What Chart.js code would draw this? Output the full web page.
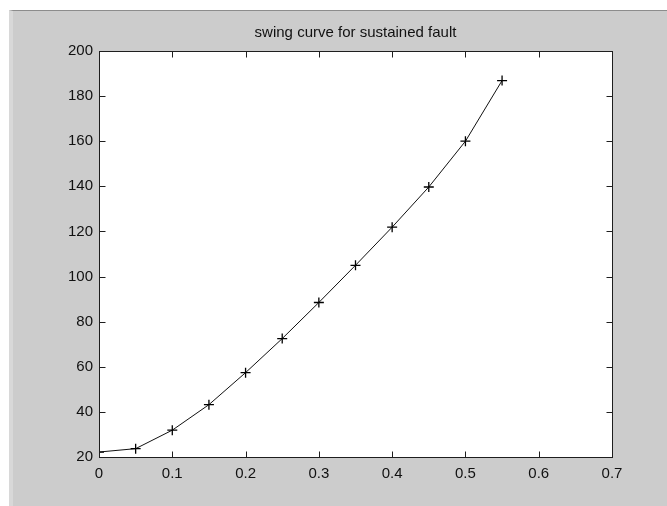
<!DOCTYPE html>
<html>
<head>
<meta charset="utf-8">
<script src="https://cdn.jsdelivr.net/npm/chart.js@4.4.1/dist/chart.umd.min.js"></script>
<style>
  html, body { margin: 0; padding: 0; background: #ffffff; }
  body { width: 667px; height: 506px; position: relative; overflow: hidden; }
  #frame {
    position: absolute; left: 9px; top: 10px; width: 658px; height: 496px;
    box-sizing: border-box; background: #cccccc;
    border-top: 1px solid #8c8c8c; border-left: 4px solid #d8d8d8;
  }
  #chart { position: absolute; left: 9px; top: 10px; }
</style>
</head>
<body>
<div id="frame"></div>
<canvas id="chart" width="658" height="496"></canvas>
<script>
// swing curve data (time in s, rotor angle in deg)
const timeValues = [0, 0.05, 0.1, 0.15, 0.2, 0.25, 0.3, 0.35, 0.4, 0.45, 0.5, 0.55];
const deltaValues = [22.2, 23.7, 31.9, 43.2, 57.4, 72.5, 88.5, 105, 121.9, 139.7, 160, 186.9];
const xTickLabels = ['0', '0.1', '0.2', '0.3', '0.4', '0.5', '0.6', '0.7'];
const yTickLabels = ['20', '40', '60', '80', '100', '120', '140', '160', '180', '200'];
const chartTitle = 'swing curve for sustained fault';

const FONT = "'Liberation Sans', Arial, sans-serif";

// matlab style: white axes area, box with inward ticks on all four sides, title
const matlabAxes = {
    id: 'matlabAxes',
    beforeDraw(chart) {
        const { ctx, chartArea: a } = chart;
        ctx.save();
        ctx.fillStyle = '#ffffff';
        ctx.fillRect(a.left, a.top, a.right - a.left, a.bottom - a.top);
        ctx.restore();
    },
    afterDraw(chart) {
        const { ctx, chartArea: a, scales } = chart;
        const L = Math.round(a.left) + 0.5, R = Math.round(a.right) + 0.5;
        const T = Math.round(a.top) + 0.5, B = Math.round(a.bottom) + 0.5;
        const tl = 6;
        ctx.save();
        ctx.strokeStyle = '#1e1e1e';
        ctx.lineWidth = 1;
        ctx.strokeRect(L, T, R - L, B - T);
        ctx.beginPath();
        scales.x.ticks.forEach(t => {
            const px = Math.round(scales.x.getPixelForValue(t.value)) + 0.5;
            ctx.moveTo(px, B); ctx.lineTo(px, B - tl);
            ctx.moveTo(px, T); ctx.lineTo(px, T + tl);
        });
        scales.y.ticks.forEach(t => {
            const py = Math.round(scales.y.getPixelForValue(t.value)) + 0.5;
            ctx.moveTo(L, py); ctx.lineTo(L + tl, py);
            ctx.moveTo(R, py); ctx.lineTo(R - tl, py);
        });
        ctx.stroke();

        ctx.fillStyle = '#111';
        ctx.font = '15px ' + FONT;
        ctx.textAlign = 'center';
        ctx.textBaseline = 'middle';
        ctx.fillText(chartTitle, (a.left + a.right) / 2, 23);
        ctx.restore();
    }
};

new Chart(document.getElementById('chart'), {
    type: 'line',
    data: {
        datasets: [{
            data: timeValues.map((t, i) => ({ x: t, y: deltaValues[i] })),
            borderColor: '#111',
            borderWidth: 1,
            tension: 0,
            fill: false,
            pointStyle: 'cross',
            pointRadius: 5,
            pointBorderWidth: 1.3,
            pointBorderColor: '#000',
        }]
    },
    options: {
        responsive: false,
        animation: false,
        layout: { padding: { top: 41, right: 55, left: 0, bottom: 0 } },
        plugins: { legend: { display: false }, tooltip: { enabled: false }, title: { display: false } },
        scales: {
            x: {
                type: 'linear', min: 0, max: 0.7,
                grid: { display: false, drawTicks: false },
                border: { display: false },
                ticks: {
                    stepSize: 0.1, padding: 8, color: '#111', maxRotation: 0,
                    font: { family: FONT, size: 15 },
                    callback: (v, i) => xTickLabels[i]
                },
                afterFit: s => { s.height = 49; }
            },
            y: {
                min: 20, max: 200,
                grid: { display: false, drawTicks: false },
                border: { display: false },
                ticks: {
                    stepSize: 20, padding: 6, color: '#111',
                    font: { family: FONT, size: 15 },
                    callback: (v, i) => yTickLabels[i]
                },
                afterFit: s => { s.width = 90; }
            }
        }
    },
    plugins: [matlabAxes]
});
</script>
</body>
</html>
